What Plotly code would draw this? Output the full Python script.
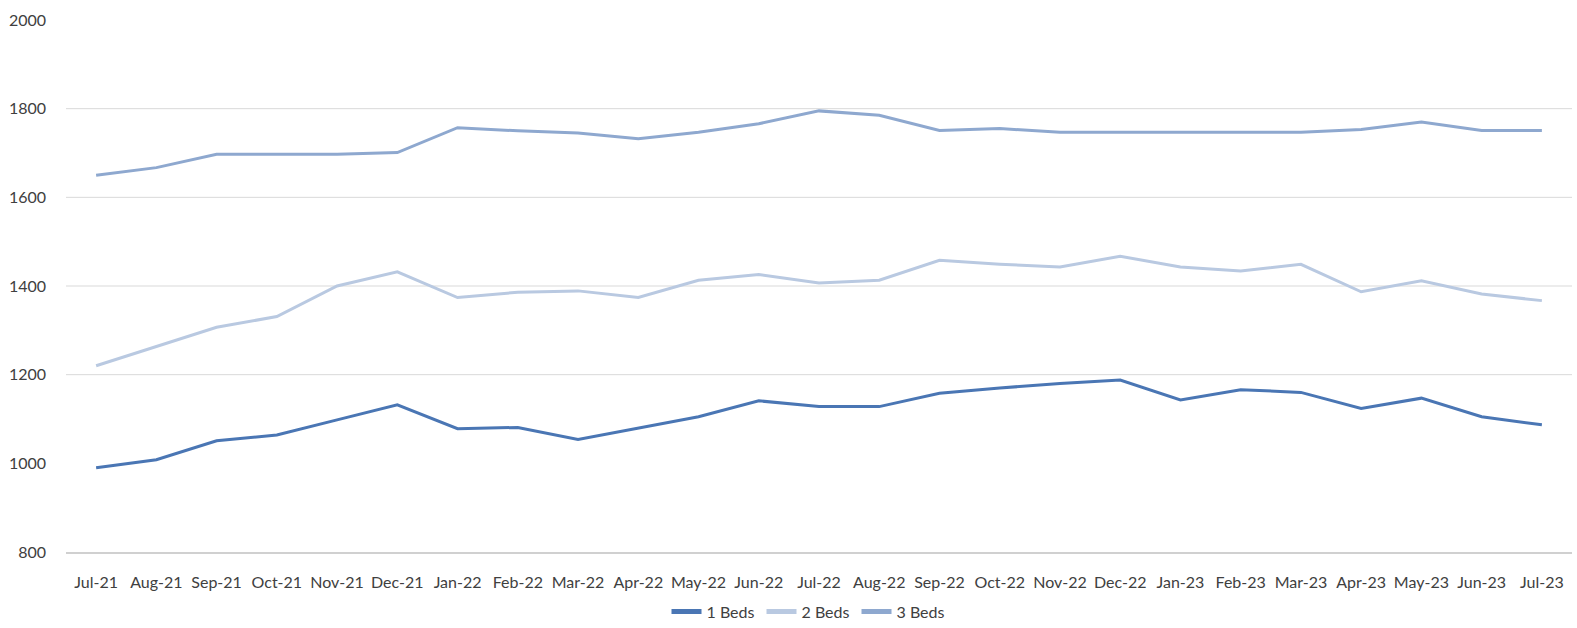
import plotly.graph_objects as go

months = ["Jul-21", "Aug-21", "Sep-21", "Oct-21", "Nov-21", "Dec-21", "Jan-22", "Feb-22",
          "Mar-22", "Apr-22", "May-22", "Jun-22", "Jul-22", "Aug-22", "Sep-22", "Oct-22",
          "Nov-22", "Dec-22", "Jan-23", "Feb-23", "Mar-23", "Apr-23", "May-23", "Jun-23", "Jul-23"]

beds_1 = [990, 1008, 1051, 1064, 1098, 1132, 1078, 1081, 1054, 1079, 1105, 1141, 1128,
          1128, 1158, 1170, 1180, 1188, 1143, 1166, 1160, 1124, 1147, 1105, 1087]
beds_2 = [1220, 1263, 1307, 1331, 1400, 1432, 1374, 1386, 1389, 1374, 1413, 1426, 1407,
          1413, 1458, 1449, 1443, 1467, 1443, 1434, 1449, 1387, 1412, 1382, 1367]
beds_3 = [1650, 1667, 1697, 1697, 1697, 1701, 1757, 1750, 1745, 1732, 1747, 1766, 1795,
          1785, 1751, 1755, 1747, 1747, 1747, 1747, 1747, 1753, 1770, 1751, 1751]

series_names = ["1 Beds", "2 Beds", "3 Beds"]
series_colors = ["#4a76b4", "#b9c9e1", "#8ea8cf"]
y_ticks = [800, 1000, 1200, 1400, 1600, 1800, 2000]
grid_values = [1200, 1400, 1600, 1800]

fig = go.Figure()
for name, vals, col in zip(series_names, [beds_1, beds_2, beds_3], series_colors):
    fig.add_trace(go.Scatter(x=months, y=vals, name=name, mode="lines",
                             line=dict(color=col, width=3)))

for g in grid_values:
    fig.add_shape(type="line", xref="paper", yref="y", x0=0, x1=1, y0=g, y1=g,
                  line=dict(color="#d9d9d9", width=1), layer="below")

fig.update_layout(
    width=1577, height=628,
    margin=dict(l=66, r=5, t=19.5, b=75.7, autoexpand=False),
    paper_bgcolor="white", plot_bgcolor="white",
    font=dict(family="Lato, Open Sans, sans-serif", size=16, color="#404040"),
    showlegend=True,
    legend=dict(orientation="h", xref="container", yref="container",
                x=0.513, xanchor="center", y=0.026, yanchor="middle",
                entrywidth=50, font=dict(size=16, color="#404040"),
                itemsizing="constant", tracegroupgap=0),
    xaxis=dict(type="category", showgrid=False, showline=True, linecolor="#d0d0d0",
               linewidth=1.5, ticks="", tickfont=dict(size=16, color="#404040"),
               range=[-0.5, len(months) - 0.5], ticklabelstandoff=15),
    yaxis=dict(range=[800, 2000], tickvals=y_ticks, showgrid=False, zeroline=False,
               showline=False, ticks="", ticklabelstandoff=19,
               tickfont=dict(size=16, color="#404040")),
)

fig.write_html("out.html")
